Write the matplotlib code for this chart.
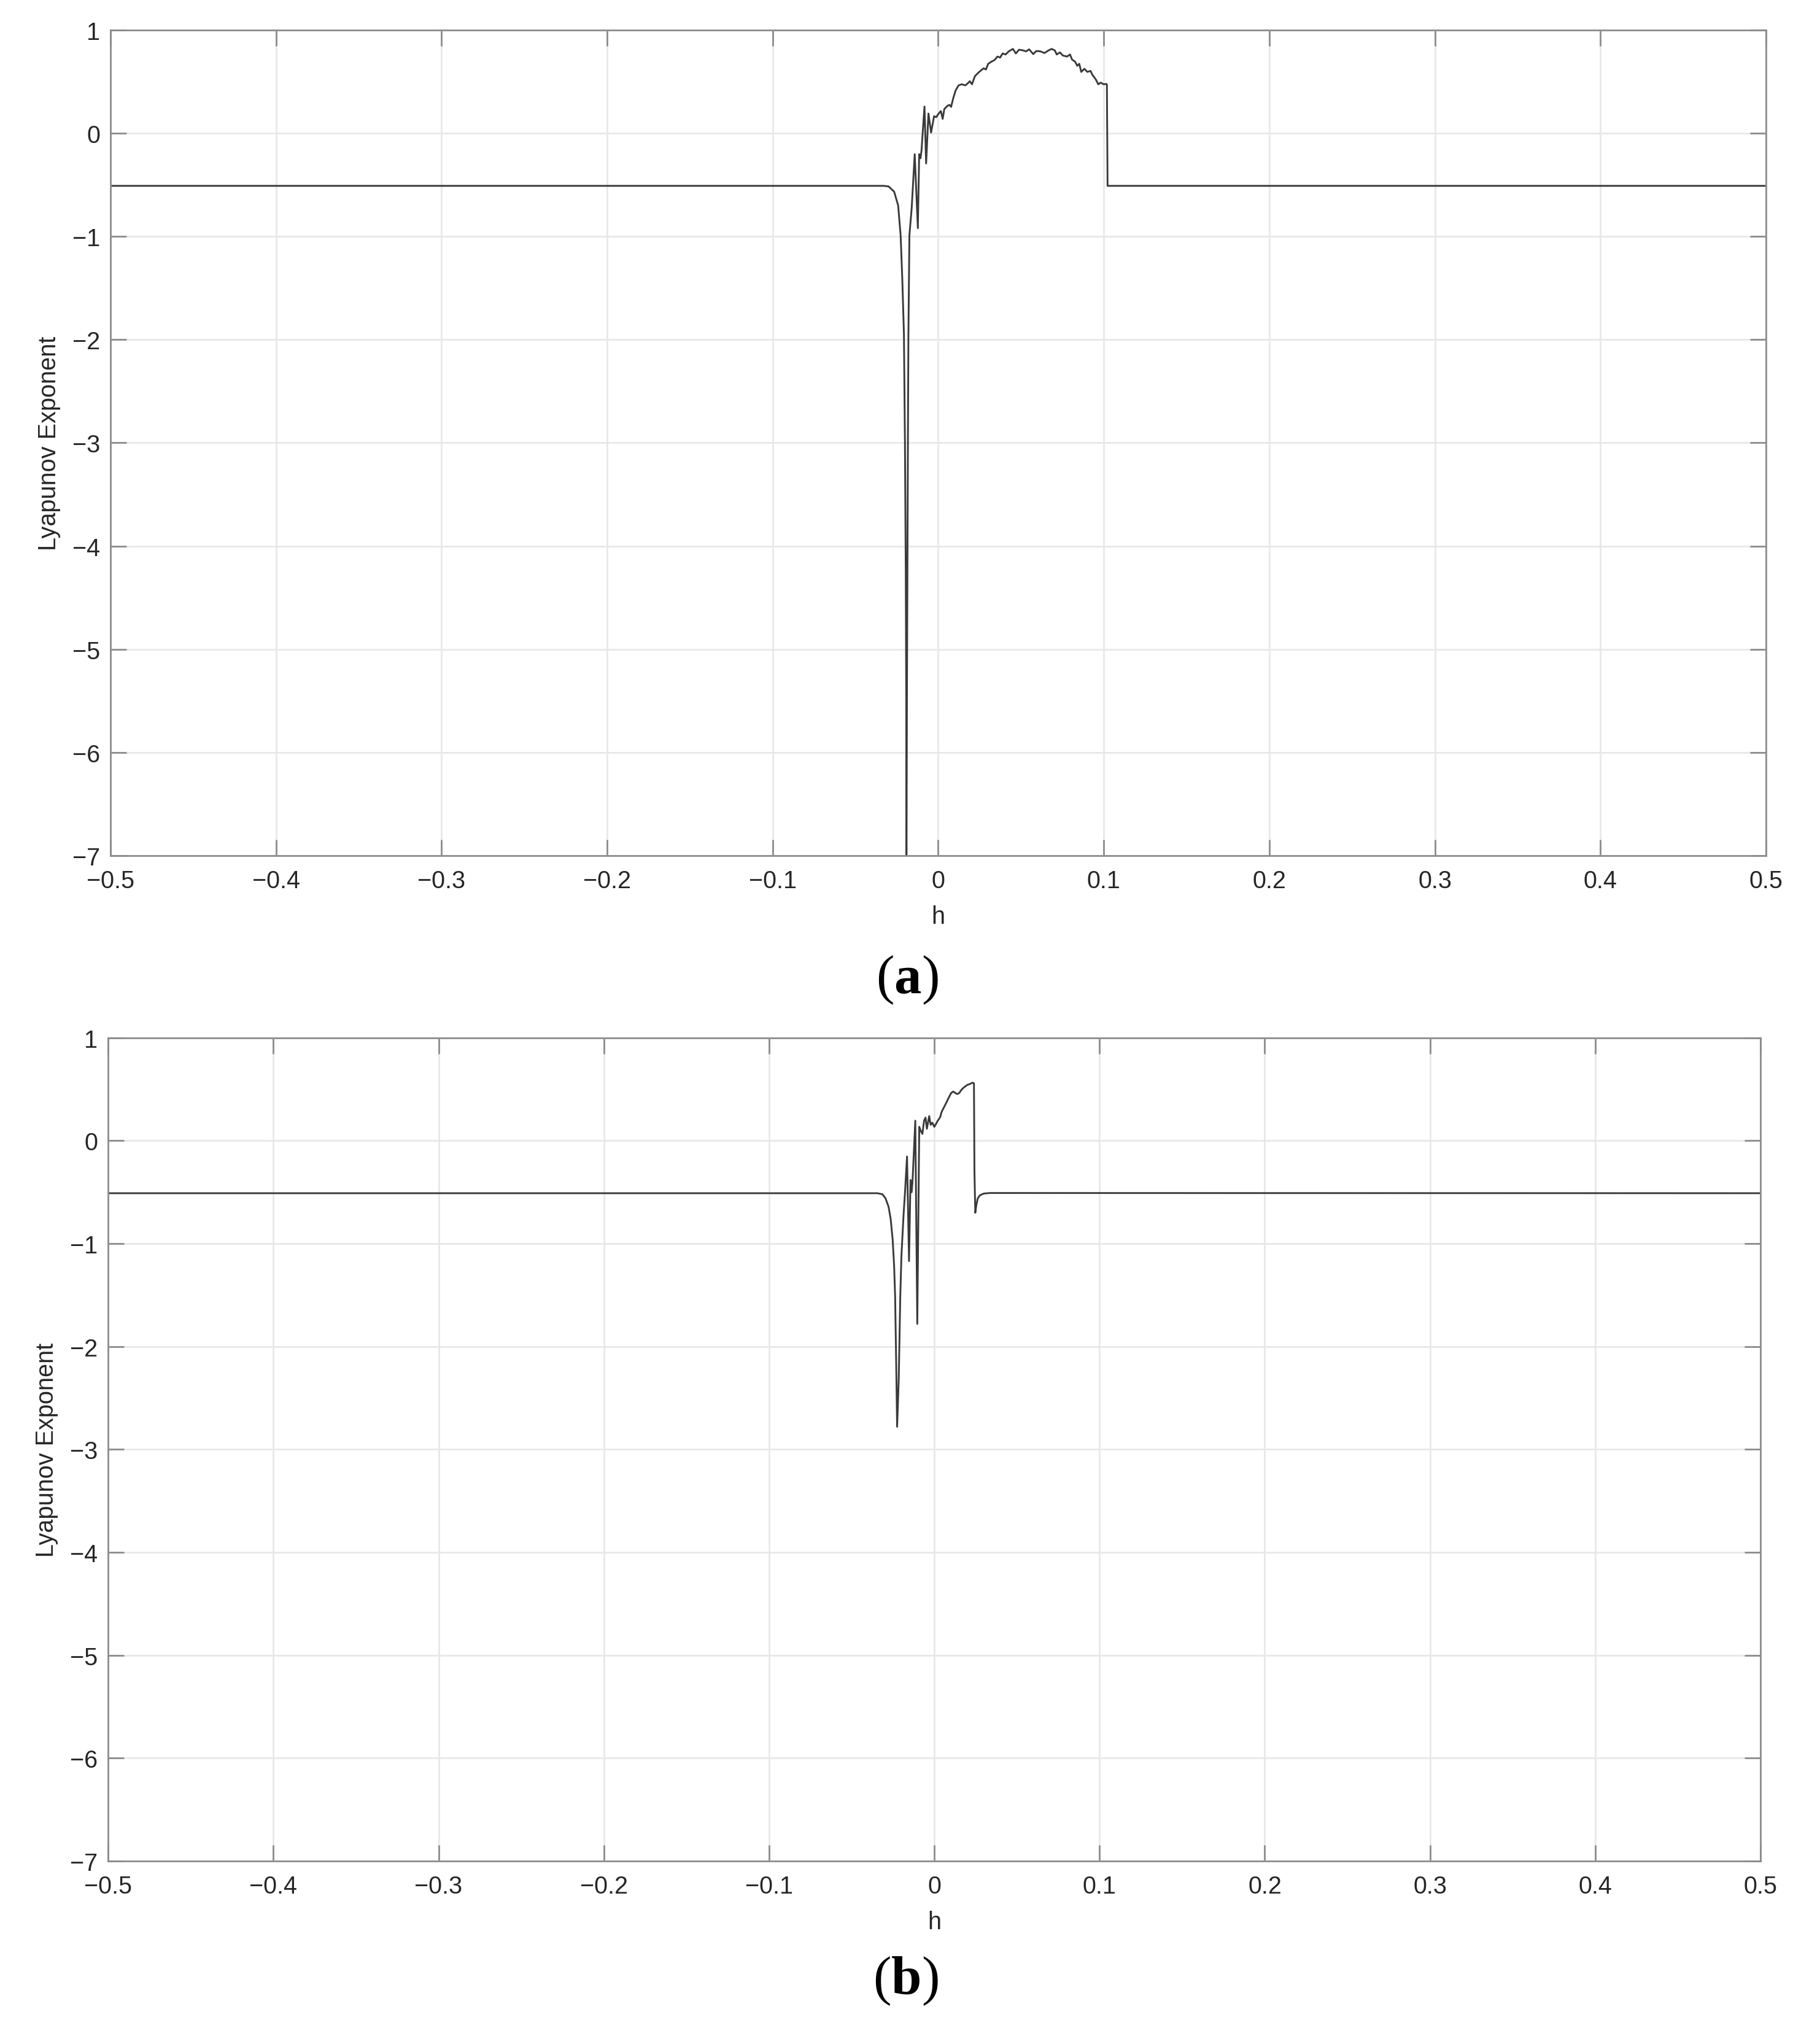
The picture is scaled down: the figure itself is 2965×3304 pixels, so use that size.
import numpy as np
import matplotlib
matplotlib.use('Agg')
import matplotlib.pyplot as plt

plt.rcParams['font.family'] = ['Liberation Sans', 'DejaVu Sans']
plt.rcParams['mathtext.fontset'] = 'custom'
plt.rcParams['mathtext.bf'] = 'Liberation Serif:bold'
plt.rcParams['mathtext.rm'] = 'Liberation Serif'

# panel (a): h values and Lyapunov exponent
h_a = [-0.5, -0.033, -0.030, -0.0266, -0.0242, -0.0227, -0.0217, -0.0207, -0.0201,
       -0.0196, -0.0193, -0.0192, -0.0189, -0.0186, -0.0183, -0.0180, -0.0174,
       -0.0160, -0.0142, -0.0123, -0.0115, -0.0107, -0.0101, -0.0083, -0.0073,
       -0.0059, -0.0043, -0.0025, -0.0012, 0.0, 0.0016, 0.0027, 0.0037, 0.0056,
       0.0068, 0.0078, 0.0090, 0.0105, 0.0123, 0.0142, 0.0164, 0.0179, 0.0191,
       0.0204, 0.0222, 0.0241, 0.0259, 0.0275, 0.0288, 0.0302, 0.0321, 0.0340,
       0.0358, 0.0374, 0.0389, 0.0407, 0.0426, 0.0451, 0.0469, 0.0488, 0.0512,
       0.0531, 0.0549, 0.0574, 0.0593, 0.0617, 0.0642, 0.0667, 0.0685, 0.0704,
       0.0716, 0.0735, 0.0753, 0.0778, 0.0796, 0.0809, 0.0827, 0.0840, 0.0852,
       0.0864, 0.0883, 0.0901, 0.0920, 0.0932, 0.0951, 0.0967, 0.0981, 0.1000,
       0.1016, 0.1019, 0.1023, 0.5]
le_a = [-0.51, -0.51, -0.515, -0.567, -0.70, -0.99, -1.41, -1.95, -2.99,
        -4.24, -5.49, -7.3, -5.49, -4.24, -2.99, -1.95, -0.99,
        -0.72, -0.203, -0.92, -0.203, -0.243, -0.17, 0.259, -0.293,
        0.191, 0.006, 0.165, 0.155, 0.185, 0.215, 0.139, 0.235, 0.265,
        0.275, 0.255, 0.335, 0.414, 0.464, 0.474, 0.464, 0.484, 0.504,
        0.474, 0.554, 0.584, 0.610, 0.629, 0.617, 0.673, 0.693, 0.709,
        0.743, 0.733, 0.773, 0.763, 0.793, 0.817, 0.773, 0.809, 0.803,
        0.793, 0.813, 0.767, 0.797, 0.793, 0.777, 0.803, 0.817, 0.803,
        0.763, 0.783, 0.753, 0.743, 0.763, 0.713, 0.693, 0.653, 0.673,
        0.594, 0.624, 0.594, 0.604, 0.564, 0.524, 0.474, 0.490, 0.474,
        0.478, 0.47, -0.51, -0.51]

# panel (b)
h_b = [-0.5, -0.0345, -0.0314, -0.0295, -0.0277, -0.0264, -0.0252, -0.0243,
       -0.0237, -0.0231, -0.0225, -0.0215, -0.0206, -0.0199, -0.0186, -0.0178,
       -0.0165, -0.0153, -0.0144, -0.0137, -0.0132, -0.0115, -0.0103, -0.0091,
       -0.0082, -0.0072, -0.0062, -0.0053, -0.0045, -0.0031, -0.0022, -0.0012,
       0.0, 0.0011, 0.0021, 0.0030, 0.0037, 0.0043, 0.0052, 0.0065, 0.0077,
       0.0089, 0.0102, 0.0114, 0.0127, 0.0139, 0.0151, 0.0164, 0.0176, 0.0189,
       0.0201, 0.0214, 0.0223, 0.0232, 0.0240, 0.0243, 0.0248, 0.0255, 0.0263,
       0.0276, 0.0300, 0.0338, 0.5]
le_b = [-0.51, -0.51, -0.52, -0.56, -0.64, -0.76, -0.96, -1.22,
        -1.52, -2.12, -2.78, -2.31, -1.52, -1.12, -0.72, -0.52,
        -0.153, -1.17, -0.382, -0.50, -0.40, 0.195, -1.78, 0.135,
        0.096, 0.066, 0.195, 0.225, 0.116, 0.239, 0.155, 0.175,
        0.135, 0.165, 0.195, 0.215, 0.235, 0.275, 0.305, 0.345, 0.384,
        0.424, 0.464, 0.478, 0.464, 0.454, 0.464, 0.494, 0.514, 0.530,
        0.544, 0.550, 0.558, 0.564, 0.558, -0.30, -0.70, -0.62, -0.56,
        -0.53, -0.513, -0.508, -0.51]

x_ticks = [-0.5, -0.4, -0.3, -0.2, -0.1, 0, 0.1, 0.2, 0.3, 0.4, 0.5]
x_labels = ['\u22120.5', '\u22120.4', '\u22120.3', '\u22120.2', '\u22120.1', '0',
            '0.1', '0.2', '0.3', '0.4', '0.5']
y_ticks = [-7, -6, -5, -4, -3, -2, -1, 0, 1]
y_labels = ['\u22127', '\u22126', '\u22125', '\u22124', '\u22123', '\u22122', '\u22121', '0', '1']

fig = plt.figure(figsize=(29.65, 33.05), dpi=100)
ax_a = fig.add_axes([0.0607, 0.5779, 0.9096, 0.4070])
ax_b = fig.add_axes([0.0594, 0.0823, 0.9079, 0.4058])

for ax, hh, le in [(ax_a, h_a, le_a), (ax_b, h_b, le_b)]:
    ax.plot(hh, le, color='#3a3a3a', linewidth=2.1)
    ax.set_xlim(-0.5, 0.5)
    ax.set_ylim(-7, 1)
    ax.set_xticks(x_ticks)
    ax.set_xticklabels(x_labels)
    ax.set_yticks(y_ticks)
    ax.set_yticklabels(y_labels)
    ax.grid(True, color='#e8e8e8', linewidth=2.0)
    ax.set_axisbelow(True)
    ax.tick_params(direction='in', length=19, width=2.0, color='#8c8c8c',
                   labelsize=28.5, labelcolor='#262626', top=True, right=True,
                   pad=12)
    ax.tick_params(axis='x', pad=16)
    for s in ax.spines.values():
        s.set_color('#8c8c8c')
        s.set_linewidth(2.0)
    ax.set_xlabel('h', fontsize=28.5, color='#262626', labelpad=14)
    ax.set_ylabel('Lyapunov Exponent', fontsize=28.5, color='#262626', labelpad=14)

fig.text(0.4985, 0.5168, r'($\mathbf{a}$)', fontsize=64, family='Liberation Serif',
         ha='center', va='center')
fig.text(0.4975, 0.0235, r'($\mathbf{b}$)', fontsize=64, family='Liberation Serif',
         ha='center', va='center')

fig.savefig('out.png', dpi=100, facecolor='white')
